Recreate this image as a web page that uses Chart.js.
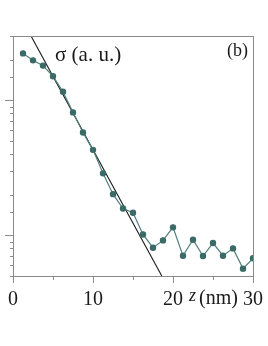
<!DOCTYPE html>
<html>
<head>
<meta charset="utf-8">
<script src="https://cdn.jsdelivr.net/npm/chart.js@4/dist/chart.umd.min.js"></script>
<style>
    html, body { margin: 0; padding: 0; background: #fff; }
    canvas { display: block; }
</style>
</head>
<body>
<canvas id="chart" width="268" height="346"></canvas>
<script>
// depth z (nm) and sigma (a. u.)
const zValues = [1.25, 2.5, 3.75, 5, 6.25, 7.5, 8.75, 10, 11.25, 12.5, 13.75, 15,
                 16.25, 17.5, 18.75, 20, 21.25, 22.5, 23.75, 25, 26.25, 27.5, 28.75, 30];
const sigmaValues = [2.23, 1.98, 1.81, 1.51, 1.16, 0.815, 0.579, 0.43, 0.288, 0.202, 0.158, 0.147,
                     0.1016, 0.081, 0.0918, 0.1147, 0.0707, 0.0929, 0.0703, 0.0877, 0.0707, 0.0801, 0.0567, 0.0676];

// straight (exponential) fit line, two ends
const fitZ = [2.25, 18.6];
const fitSigma = [3, 0.05];

const xTickLabels = [0, 10, 20, 30];

const serif = "'Liberation Serif', 'DejaVu Serif', serif";
const frameColor = "#8a8a8a";
const textColor = "#1a1a1a";
const green = "#3b6b67";

let extras = {
    id: "extras",
    afterDraw(chart) {
        let ctx = chart.ctx;
        let a = chart.chartArea;
        let xs = chart.scales.x;
        let ys = chart.scales.y;
        ctx.save();

        // frame
        ctx.strokeStyle = frameColor;
        ctx.lineWidth = 1;
        ctx.strokeRect(Math.round(a.left) + 0.5, Math.round(a.top) + 0.5,
                       Math.round(a.right - a.left), Math.round(a.bottom - a.top));

        // x ticks, outward
        ctx.beginPath();
        for(let t of xs.ticks) {
            let px = Math.round(xs.getPixelForValue(t.value)) + 0.5;
            let len = t.value % 10 == 0 ? 7 : 4;
            ctx.moveTo(px, a.bottom);
            ctx.lineTo(px, a.bottom + len);
        }
        // y ticks, outward
        for(let t of ys.ticks) {
            let py = Math.round(ys.getPixelForValue(t.value)) + 0.5;
            let lg = Math.log10(t.value);
            let major = Math.abs(lg - Math.round(lg)) < 1e-6;
            ctx.moveTo(a.left, py);
            ctx.lineTo(a.left - (major ? 8 : 3), py);
        }
        ctx.stroke();

        // x tick labels
        ctx.fillStyle = textColor;
        ctx.textBaseline = "middle";
        ctx.textAlign = "center";
        ctx.font = `20px ${serif}`;
        for(let t of xs.ticks) {
            if(!xTickLabels.includes(t.value)) continue;
            ctx.fillText(String(t.value), xs.getPixelForValue(t.value), 300);
        }

        // texts
        ctx.textAlign = "left";
        ctx.font = `21px ${serif}`;
        ctx.fillText("σ (a. u.)", 55, 55);
        ctx.font = `18px ${serif}`;
        ctx.fillText("(b)", 227, 51);
        ctx.font = `italic 18px ${serif}`;
        ctx.fillText("z", 189, 296);
        ctx.font = `20px ${serif}`;
        ctx.fillText("(nm)", 199, 299);
        ctx.restore();
    }
};

new Chart("chart", {
    type: "line",
    data: {
        datasets: [
            {
                data: zValues.map((z, i) => ({x: z, y: sigmaValues[i]})),
                borderColor: "#4f817c",
                borderWidth: 1.2,
                pointBackgroundColor: green,
                pointBorderColor: green,
                pointRadius: 2.6,
                fill: false
            },
            {
                data: fitZ.map((z, i) => ({x: z, y: fitSigma[i]})),
                borderColor: "#1a1a1a",
                borderWidth: 1.1,
                pointRadius: 0,
                fill: false
            }
        ]
    },
    options: {
        responsive: false,
        animation: false,
        devicePixelRatio: 1,
        layout: {padding: {top: 36, right: 15, left: 0, bottom: 0}},
        plugins: {legend: {display: false}, tooltip: {enabled: false}},
        scales: {
            x: {
                type: "linear",
                min: 0,
                max: 30,
                grid: {display: false, drawTicks: false},
                border: {display: false},
                ticks: {stepSize: 5, display: false},
                afterFit: s => { s.height = 70; }
            },
            y: {
                type: "logarithmic",
                min: 0.05,
                max: 3,
                grid: {display: false, drawTicks: false},
                border: {display: false},
                ticks: {display: false},
                afterFit: s => { s.width = 13; }
            }
        }
    },
    plugins: [extras]
});
</script>
</body>
</html>
